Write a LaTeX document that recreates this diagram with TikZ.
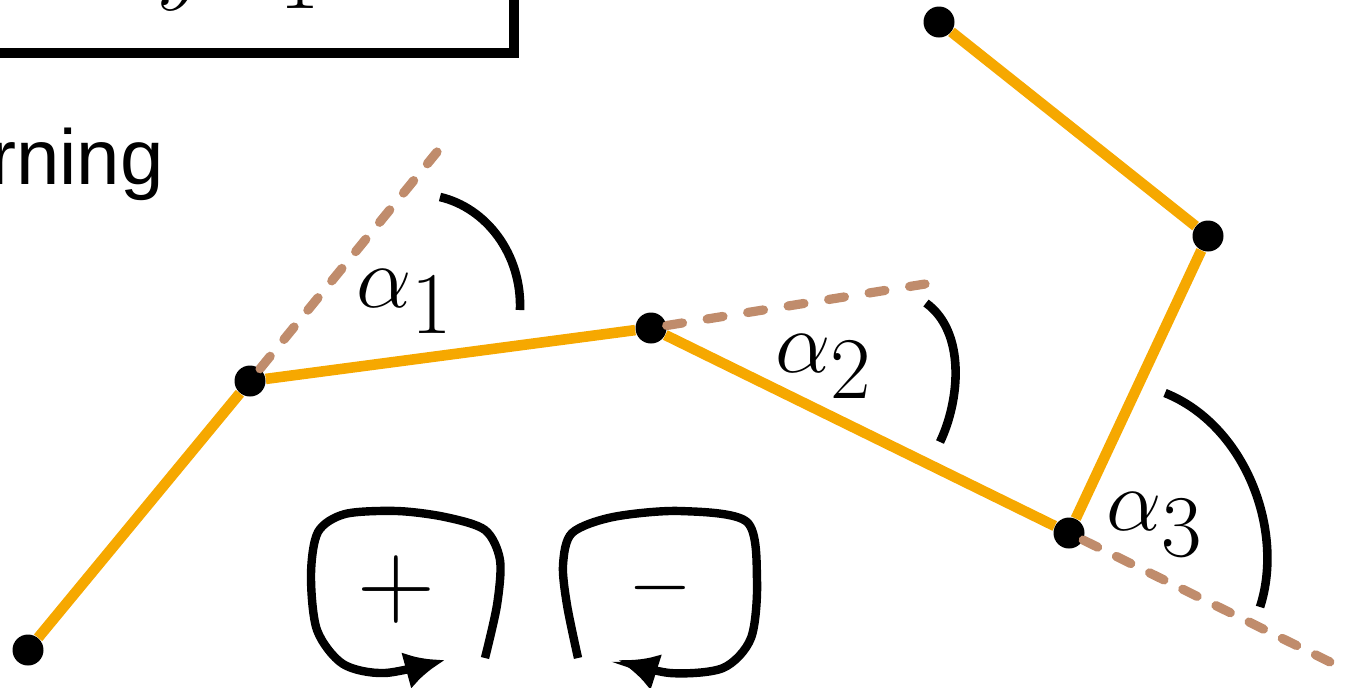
\RequirePackage{fix-cm}
\documentclass[tikz,border=0pt]{standalone}
\usepackage{amsmath,amssymb}
\usepackage{fontspec}
\newfontfamily\labelfont{Liberation Sans}
\usetikzlibrary{arrows.meta}

\definecolor{chainorange}{RGB}{246,168,0}
\definecolor{extbrown}{RGB}{192,140,108}

\begin{document}
\begin{tikzpicture}[x=0.5pt,y=-0.5pt,>={Latex[length=20pt,width=19pt]},
    link/.style={chainorange,line width=5.3pt},
    ext/.style={extbrown,line width=4.6pt,line cap=round},
    joint/.style={circle,fill=black,minimum size=15.5pt,inner sep=0pt},
    anglearc/.style={black,line width=4.3pt},
    turnloop/.style={black,line width=4.2pt,->},
    biglabel/.style={inner sep=0pt,font=\fontsize{44}{50}\selectfont}]

        \useasboundingbox (0,0) rectangle (1353,687);
        \clip (0,0) rectangle (1353,687);

        % Box cut off at the top
        \draw[line width=5pt] (-40,-100) rectangle (514,53);
        \node[biglabel,anchor=base west] (ytop) at (157,-7) {$y$};
        \node[biglabel,anchor=base] (onetop) at (300,8) {$1$};

        % Caption
        \node[inner sep=0pt,anchor=base east,font=\labelfont\fontsize{39}{44}\selectfont]
            (word) at (164,184) {rning};

        % Joints
        \node[joint] (p0) at (28,650) {};
        \node[joint] (p1) at (250,381) {};
        \node[joint] (p2) at (651,328) {};
        \node[joint] (p3) at (1069,533) {};
        \node[joint] (p4) at (1208,236) {};
        \node[joint] (p5) at (939,22) {};

        % Free ends of the extensions
        \coordinate (e1) at (437,152);
        \coordinate (e2) at (925,284);
        \coordinate (e3) at (1330,662);

        % Chain
        \draw[link] (p0) -- (p1) -- (p2) -- (p3) -- (p4) -- (p5);

        % Extensions (gaps tuned so a dash ends at each free end)
        \draw[ext,dash pattern=on 8pt off 10.9pt] (p1) -- (e1);
        \draw[ext,dash pattern=on 8pt off 12.5pt] (p2) -- (e2);
        \draw[ext,dash pattern=on 8pt off 10.5pt] (p3) -- (e3);

        % Turning angles
        \draw[anglearc] (440,197) .. controls (487,208) and (522,255) .. (520,310);
        \draw[anglearc] (926,303) .. controls (966,332) and (960,400) .. (940,442);
        \draw[anglearc] (1165,393) .. controls (1245,425) and (1285,530) .. (1260,607);

        \node[biglabel,anchor=base west] (a1) at (356,307) {$\alpha_{\textstyle 1}$};
        \node[biglabel,anchor=base west] (a2) at (775,372) {$\alpha_{\textstyle 2}$};
        \node[biglabel,anchor=base west] (a3) at (1106,530) {$\alpha_{\textstyle 3}$};

        % Sign convention
        \draw[turnloop] plot[smooth] coordinates {
            (485,658) (497,605) (500,560) (485,530) (445,517) (397,511)
            (345,514) (318,532) (311,575) (317,630) (343,664) (385,673) (445,660)};
        \draw[turnloop] plot[smooth] coordinates {
            (578,658) (567,605) (563,565) (572,533) (613,517) (680,511)
            (747,522) (757,580) (751,638) (723,668) (670,673) (618,660)};

        \node[inner sep=0pt,font=\fontsize{54}{60}\selectfont] (plus) at (396,589) {$+$};
        \node[inner sep=0pt,font=\fontsize{41}{48}\selectfont] (minus) at (660,588) {$-$};

    \end{tikzpicture}
\end{document}
